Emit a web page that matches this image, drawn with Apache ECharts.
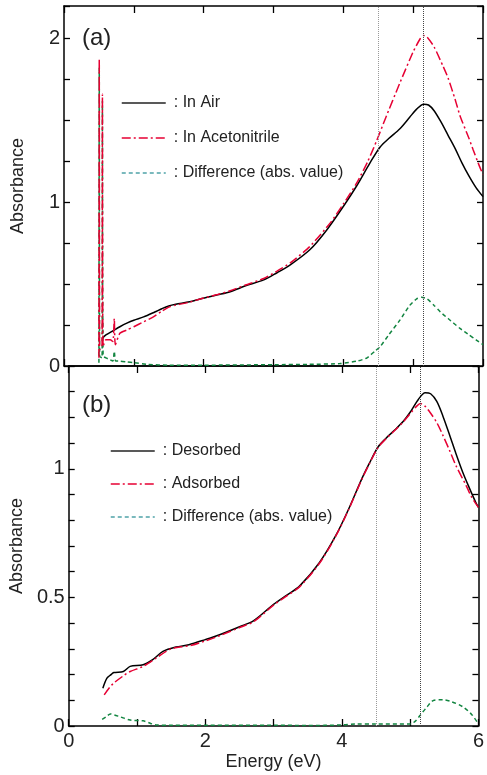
<!DOCTYPE html>
<html><head><meta charset="utf-8">
<script src="https://cdn.jsdelivr.net/npm/echarts@6/dist/echarts.min.js"></script>
<style>html,body{margin:0;padding:0;background:#fff}#c{width:487px;height:775px}</style>
</head><body><div id="c"></div>
<script>
// ---- Panel (a) data: [energy eV, absorbance]
const inAir = [[0.55,0.17],[0.6,0.19],[0.7,0.215],[0.8,0.24],[0.9,0.262],[1.0,0.28],[1.14,0.30],[1.3,0.33],[1.4,0.35],[1.5,0.367],[1.6,0.377],[1.8,0.392],[1.95,0.41],[2.2,0.435],[2.38,0.454],[2.6,0.49],[2.86,0.526],[3.05,0.57],[3.24,0.618],[3.52,0.71],[3.76,0.83],[4.0,0.975],[4.19,1.10],[4.38,1.24],[4.53,1.34],[4.65,1.39],[4.81,1.45],[4.95,1.52],[5.05,1.57],[5.15,1.60],[5.22,1.595],[5.3,1.56],[5.4,1.49],[5.5,1.41],[5.6,1.33],[5.7,1.24],[5.8,1.16],[5.9,1.09],[6.0,1.035]];
const inAcetonitrile = [[0.5,0.05],[0.505,1.88],[0.51,0.10],[0.545,0.12],[0.55,1.66],[0.56,0.12],[0.6,0.16],[0.66,0.16],[0.7,0.15],[0.72,0.29],[0.735,0.13],[0.8,0.20],[0.9,0.22],[1.0,0.24],[1.14,0.27],[1.28,0.30],[1.4,0.335],[1.5,0.36],[1.6,0.372],[1.8,0.39],[1.95,0.41],[2.2,0.437],[2.38,0.46],[2.6,0.495],[2.86,0.535],[3.05,0.58],[3.24,0.63],[3.52,0.73],[3.81,0.873],[4.0,0.99],[4.19,1.117],[4.35,1.25],[4.48,1.38],[4.6,1.51],[4.81,1.73],[5.0,1.92],[5.1,2.0],[5.15,2.02],[5.2,2.01],[5.3,1.95],[5.43,1.83],[5.5,1.76],[5.6,1.63],[5.67,1.53],[5.8,1.39],[5.86,1.32],[5.95,1.22],[6.0,1.17]];
const diffA = [[0.5,0.02],[0.505,1.82],[0.51,0.06],[0.545,0.05],[0.55,1.62],[0.56,0.06],[0.6,0.05],[0.65,0.04],[0.7,0.03],[0.72,0.09],[0.74,0.03],[0.8,0.03],[0.9,0.025],[1.0,0.02],[1.2,0.01],[1.5,0.005],[2.0,0.005],[3.0,0.008],[3.5,0.01],[3.95,0.015],[4.2,0.03],[4.34,0.05],[4.45,0.09],[4.53,0.12],[4.65,0.19],[4.81,0.28],[4.95,0.37],[5.05,0.41],[5.12,0.42],[5.2,0.41],[5.3,0.37],[5.39,0.33],[5.5,0.29],[5.67,0.23],[5.8,0.19],[5.9,0.16],[6.0,0.13]];
// ---- Panel (b) data
const desorbed = [[0.5,0.147],[0.56,0.186],[0.62,0.20],[0.66,0.208],[0.8,0.212],[0.9,0.232],[1.09,0.238],[1.23,0.258],[1.38,0.29],[1.57,0.307],[1.76,0.316],[2.0,0.336],[2.2,0.354],[2.52,0.388],[2.71,0.41],[3.0,0.473],[3.2,0.51],[3.38,0.544],[3.67,0.635],[3.91,0.74],[4.1,0.844],[4.29,0.96],[4.4,1.02],[4.53,1.085],[4.65,1.12],[4.77,1.15],[4.9,1.185],[5.0,1.22],[5.12,1.27],[5.22,1.296],[5.3,1.292],[5.39,1.262],[5.48,1.205],[5.58,1.13],[5.67,1.06],[5.77,0.987],[5.86,0.93],[5.96,0.87],[6.0,0.85]];
const adsorbed = [[0.52,0.121],[0.6,0.15],[0.66,0.167],[0.8,0.195],[0.9,0.212],[1.09,0.232],[1.28,0.264],[1.47,0.297],[1.6,0.306],[1.8,0.314],[2.0,0.331],[2.2,0.35],[2.52,0.385],[2.71,0.406],[3.0,0.47],[3.2,0.507],[3.38,0.541],[3.67,0.632],[3.91,0.738],[4.1,0.842],[4.29,0.958],[4.4,1.018],[4.53,1.083],[4.65,1.118],[4.77,1.148],[4.9,1.183],[5.0,1.215],[5.1,1.245],[5.15,1.254],[5.22,1.243],[5.29,1.22],[5.39,1.18],[5.48,1.13],[5.58,1.07],[5.67,1.013],[5.82,0.935],[5.9,0.89],[6.0,0.85]];
const diffB = [[0.49,0.026],[0.55,0.036],[0.61,0.047],[0.67,0.043],[0.75,0.036],[0.9,0.023],[1.09,0.02],[1.2,0.01],[1.28,0.004],[1.5,0.003],[2.0,0.003],[3.0,0.003],[3.5,0.002],[4.0,0.004],[4.2,0.008],[4.5,0.008],[5.0,0.008],[5.08,0.02],[5.15,0.043],[5.25,0.075],[5.34,0.099],[5.48,0.102],[5.6,0.095],[5.77,0.075],[5.9,0.045],[6.0,0.008]];
// ---- Axis ticks / labels
const energyTickLabels = [0, 2, 4, 6];
const absTickLabelsA = [0, 1, 2];
const absTickLabelsB = [0, 0.5, 1];
const markerEnergies = [4.5, 5.15];

const FONT = 'Liberation Sans, Arial, Helvetica, sans-serif';
const BLACK = '#000000', RED = '#e60033', GREEN = '#128540', LEGTEAL = '#4fa3a8';
const DASHDOT = [9, 3, 2, 3], DASH = [4, 3];

function hasLabel(list, v) { return list.some(t => Math.abs(t - v) < 1e-6); }
function axisLine() { return { show: true, onZero: false, lineStyle: { color: '#000', width: 1.5 } }; }
function xAx(grid, pos, labels) {
  return {
    type: 'value', gridIndex: grid, position: pos, min: 0, max: 6, interval: 1,
    axisLine: axisLine(), splitLine: { show: false },
    axisTick: { show: true, inside: true, length: 7, lineStyle: { color: '#000', width: 1.3 } },
    axisLabel: labels ? { show: true, margin: 5, fontSize: 20, color: '#222', fontFamily: FONT,
      formatter: v => hasLabel(energyTickLabels, v) ? String(v) : '' } : { show: false },
    name: labels ? 'Energy (eV)' : '', nameLocation: 'middle', nameGap: 27,
    nameTextStyle: { fontSize: 18, color: '#222', fontFamily: FONT }
  };
}
function yAx(grid, pos, max, interval, labelList, labels) {
  return {
    type: 'value', gridIndex: grid, position: pos, min: 0, max: max, interval: interval,
    axisLine: axisLine(), splitLine: { show: false },
    axisTick: { show: true, inside: true, length: 6, lineStyle: { color: '#000', width: 1.3 } },
    axisLabel: labels ? { show: true, margin: 4, fontSize: 20, color: '#222', fontFamily: FONT,
      formatter: v => hasLabel(labelList, v) ? String(v) : '' } : { show: false },
    name: labels ? 'Absorbance' : '', nameLocation: 'middle', nameGap: 37,
    nameTextStyle: { fontSize: 18, color: '#222', fontFamily: FONT }
  };
}
function line(name, data, xi, yi, color, type, extra) {
  return Object.assign({
    name: name, type: 'line', data: data, xAxisIndex: xi, yAxisIndex: yi,
    symbol: 'none', smooth: 0.3, clip: true,
    lineStyle: { color: color, width: 1.5, type: type }, itemStyle: { color: color }
  }, extra || {});
}
function marks() {
  return {
    silent: true, symbol: 'none', label: { show: false },
    lineStyle: { type: 'dotted', width: 1 },
    data: [{ xAxis: markerEnergies[0], lineStyle: { color: '#999', type: 'dotted', width: 1 } },
           { xAxis: markerEnergies[1], lineStyle: { color: '#444', type: 'dotted', width: 1 } }]
  };
}
const hiddenSym = { opacity: 0, color: 'rgba(0,0,0,0)', borderColor: 'rgba(0,0,0,0)', borderWidth: 0 };
function legend(left, top, gap, names) {
  return {
    orient: 'vertical', left: left, top: top, padding: 0, itemWidth: 44, itemHeight: 14, itemGap: gap,
    selectedMode: false,
    textStyle: { fontSize: 16, color: '#222', fontFamily: FONT, padding: [0, 0, 0, 3] },
    formatter: n => ': ' + n,
    data: [
      { name: names[0], itemStyle: hiddenSym, lineStyle: { color: '#222', type: 'solid', width: 1.5 } },
      { name: names[1], itemStyle: hiddenSym, lineStyle: { color: RED, type: DASHDOT, width: 1.5 } },
      { name: names[2], itemStyle: hiddenSym, lineStyle: { color: LEGTEAL, type: DASH, width: 1.5 } }
    ]
  };
}

const chart = echarts.init(document.getElementById('c'), null, { renderer: 'canvas' });
chart.setOption({
  animation: false,
  backgroundColor: '#fff',
  grid: [
    { left: 64, top: 6, width: 419, height: 360 },
    { left: 64, top: 366, width: 419, height: 360 }
  ],
  xAxis: [xAx(0, 'bottom', false), xAx(0, 'top', false), xAx(1, 'bottom', true), xAx(1, 'top', false)],
  yAxis: [yAx(0, 'left', 2.2, 0.25, absTickLabelsA, true), yAx(0, 'right', 2.2, 0.25, absTickLabelsA, false),
          yAx(1, 'left', 1.4, 0.1, absTickLabelsB, true), yAx(1, 'right', 1.4, 0.1, absTickLabelsB, false)],
  legend: [legend(121, 95, 19, ['In Air', 'In Acetonitrile', 'Difference (abs. value)']),
           legend(110, 443, 17, ['Desorbed', 'Adsorbed', 'Difference (abs. value)'])],
  graphic: [
    { type: 'text', left: 82, top: 26, style: { text: '(a)', fontSize: 24, fill: '#222', fontFamily: FONT } },
    { type: 'text', left: 82, top: 393, style: { text: '(b)', fontSize: 24, fill: '#222', fontFamily: FONT } }
  ],
  series: [
    line('Difference (abs. value)', diffA, 0, 0, GREEN, DASH, { markLine: marks(), smooth: 0.2 }),
    line('In Air', inAir, 0, 0, BLACK, 'solid'),
    line('In Acetonitrile', inAcetonitrile, 0, 0, RED, DASHDOT, { smooth: 0.2 }),
    line('Difference (abs. value)', diffB, 2, 2, GREEN, DASH, { markLine: marks() }),
    line('Desorbed', desorbed, 2, 2, BLACK, 'solid'),
    line('Adsorbed', adsorbed, 2, 2, RED, DASHDOT)
  ]
});
</script></body></html>
